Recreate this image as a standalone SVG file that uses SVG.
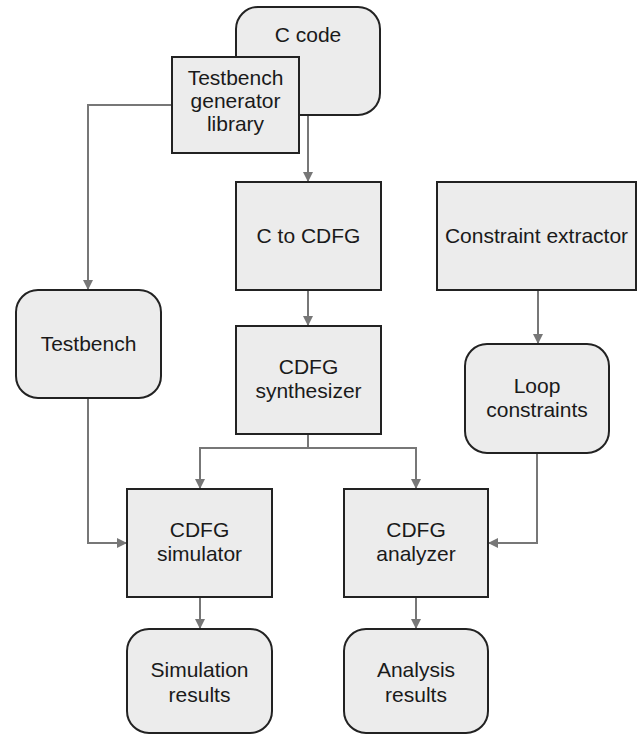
<svg xmlns="http://www.w3.org/2000/svg" width="640" height="735" viewBox="0 0 640 735">
<style>
.box{fill:#ececec;stroke:#222;stroke-width:2}
.lbl{font-family:"Liberation Sans",Arial,sans-serif;font-size:21px;fill:#1a1a1a;text-anchor:middle}
.conn{fill:none;stroke:#777;stroke-width:2}
</style>
<defs>
<marker id="arr" viewBox="0 0 10 10" refX="10" refY="5" markerWidth="10" markerHeight="10" markerUnits="userSpaceOnUse" orient="auto">
<path d="M0,0 L10,5 L0,10 z" fill="#777"/>
</marker>
</defs>
<rect width="640" height="735" fill="#fff"/>
<g id="connectors">
<path class="conn" d="M308,115 V182" marker-end="url(#arr)"/>
<path class="conn" d="M172,105 H88 V290" marker-end="url(#arr)"/>
<path class="conn" d="M308,290 V326" marker-end="url(#arr)"/>
<path class="conn" d="M538,290 V344" marker-end="url(#arr)"/>
<path class="conn" d="M308,434 V448 H200 V489" marker-end="url(#arr)"/>
<path class="conn" d="M308,448 H416 V489" marker-end="url(#arr)"/>
<path class="conn" d="M88,398 V543 H127" marker-end="url(#arr)"/>
<path class="conn" d="M537,453 V543 H488" marker-end="url(#arr)"/>
<path class="conn" d="M200,597 V629" marker-end="url(#arr)"/>
<path class="conn" d="M416,597 V629" marker-end="url(#arr)"/>
</g>
<g id="c-code">
<rect class="box" x="236" y="7" width="144" height="108" rx="22"/>
<text class="lbl" x="308" y="42">C code</text>
</g>
<g id="testbench-generator-library">
<rect class="box" x="172" y="57" width="127" height="96"/>
<text class="lbl" x="235.5" y="85">Testbench</text>
<text class="lbl" x="235.5" y="108">generator</text>
<text class="lbl" x="235.5" y="131">library</text>
</g>
<g id="c-to-cdfg">
<rect class="box" x="236" y="182" width="145" height="108"/>
<text class="lbl" x="308.5" y="243">C to CDFG</text>
</g>
<g id="constraint-extractor">
<rect class="box" x="437" y="182" width="199" height="108"/>
<text class="lbl" x="536.5" y="243">Constraint extractor</text>
</g>
<g id="testbench">
<rect class="box" x="16" y="290" width="145" height="108" rx="22"/>
<text class="lbl" x="88.5" y="351">Testbench</text>
</g>
<g id="cdfg-synthesizer">
<rect class="box" x="236" y="326" width="145" height="108"/>
<text class="lbl" x="308.5" y="374">CDFG</text>
<text class="lbl" x="308.5" y="398">synthesizer</text>
</g>
<g id="loop-constraints">
<rect class="box" x="465" y="344" width="144" height="109" rx="22"/>
<text class="lbl" x="537" y="393">Loop</text>
<text class="lbl" x="537" y="417">constraints</text>
</g>
<g id="cdfg-simulator">
<rect class="box" x="127" y="489" width="145" height="108"/>
<text class="lbl" x="199.5" y="537">CDFG</text>
<text class="lbl" x="199.5" y="561">simulator</text>
</g>
<g id="cdfg-analyzer">
<rect class="box" x="344" y="489" width="144" height="108"/>
<text class="lbl" x="416" y="537">CDFG</text>
<text class="lbl" x="416" y="561">analyzer</text>
</g>
<g id="simulation-results">
<rect class="box" x="127" y="629" width="145" height="104" rx="22"/>
<text class="lbl" x="199.5" y="677">Simulation</text>
<text class="lbl" x="199.5" y="702">results</text>
</g>
<g id="analysis-results">
<rect class="box" x="344" y="629" width="144" height="104" rx="22"/>
<text class="lbl" x="416" y="677">Analysis</text>
<text class="lbl" x="416" y="702">results</text>
</g>
</svg>
